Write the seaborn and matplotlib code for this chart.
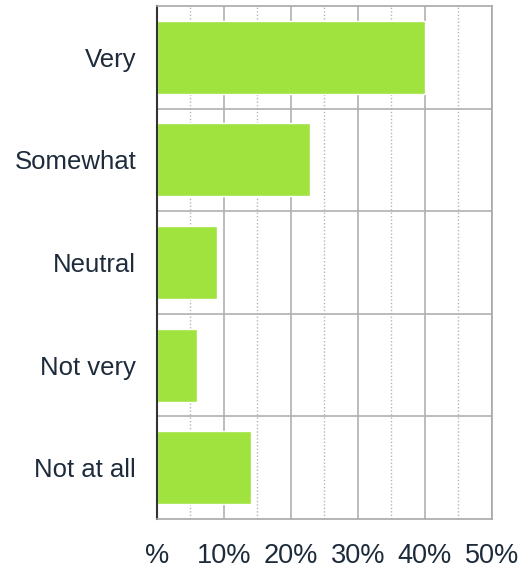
import pandas as pd
import matplotlib.pyplot as plt
import seaborn as sns
from matplotlib.ticker import MultipleLocator

# Values
categories = ['Very', 'Somewhat', 'Neutral', 'Not very', 'Not at all']
shares = [40, 22.8, 9, 6, 14]
tick_values = [0, 10, 20, 30, 40, 50]
tick_labels = ['%', '10%', '20%', '30%', '40%', '50%']

df = pd.DataFrame({'category': categories, 'share': shares})

sns.set_style('white')
plt.rcParams['font.family'] = ['Liberation Sans', 'DejaVu Sans']

fig = plt.figure(figsize=(5.25, 5.71), dpi=100)
ax = fig.add_axes([0.299, 0.091, 0.638, 0.8985])

sns.barplot(data=df, y='category', x='share', orient='h', color='#a0e23e',
            saturation=1, width=0.71, ax=ax, zorder=3)

ax.set_xlim(0, 50)
ax.set_ylim(len(categories) - 0.5, -0.5)

# solid major grid every 10%, dotted minor grid every 5%
ax.xaxis.set_major_locator(MultipleLocator(10))
ax.xaxis.set_minor_locator(MultipleLocator(5))
ax.grid(axis='x', which='major', color='#b0b0b0', linewidth=1.2, linestyle='-', zorder=0)
ax.grid(axis='x', which='minor', color='#b5b5b5', linewidth=1.0, linestyle=(0, (1, 1.5)), zorder=0)
for i in range(len(categories) - 1):
    ax.axhline(i + 0.5, color='#b0b0b0', linewidth=1.2, zorder=1)

ax.set_xticks(tick_values)
ax.set_xticklabels(tick_labels)
ax.tick_params(axis='x', which='both', length=0, pad=17, labelsize=19.5, labelcolor='#1d2b3b')
ax.tick_params(axis='y', length=0, pad=15, labelsize=18.5, labelcolor='#1d2b3b')
ax.set_xlabel('')
ax.set_ylabel('')

for side in ['right', 'top', 'bottom']:
    ax.spines[side].set_color('#a8a8a8')
    ax.spines[side].set_linewidth(1.2)
ax.spines['left'].set_color('#333333')
ax.spines['left'].set_linewidth(1.5)
for s in ax.spines.values():
    s.set_zorder(4)

plt.savefig('out.png', dpi=100)
